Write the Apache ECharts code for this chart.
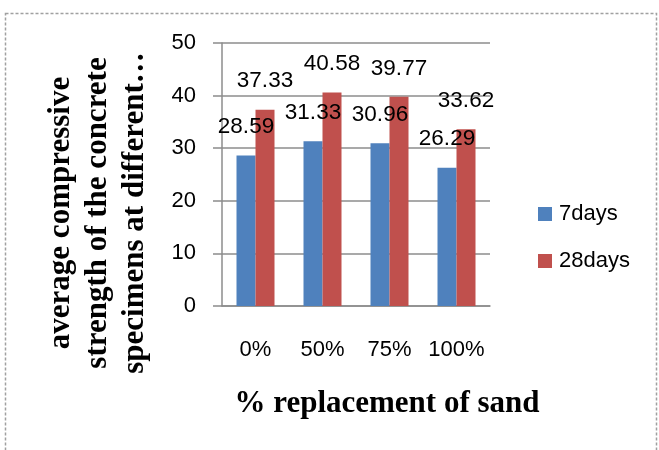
<!DOCTYPE html>
<html>
<head>
<meta charset="utf-8">
<script src="https://cdn.jsdelivr.net/npm/echarts@6/dist/echarts.min.js"></script>
<style>
html,body{margin:0;padding:0;background:#fff;}
#chart{width:659px;height:450px;}
</style>
</head>
<body>
<div id="chart"></div>
<script>
var categories = ['0%', '50%', '75%', '100%'];
var seriesNames = ['7days', '28days'];
var days7 = [28.59, 31.33, 30.96, 26.29];
var days28 = [37.33, 40.58, 39.77, 33.62];
var yTitle = 'average compressive\nstrength of the concrete\nspecimens at different\u2026';
var xTitle = '% replacement of sand';

var chart = echarts.init(document.getElementById('chart'), null, {renderer: 'canvas'});
var sansFont = 'Liberation Sans, Arial, sans-serif';
var serifFont = 'Liberation Serif, Times New Roman, serif';
var labelStyle = {show: true, position: 'top', distance: 17, color: '#000', fontSize: 22.5, fontFamily: sansFont};

chart.setOption({
  animation: false,
  backgroundColor: '#fff',
  grid: {left: 222, right: 169, top: 43, bottom: 144, containLabel: false},
  legend: {
    orient: 'vertical', left: 533, top: 198,
    itemWidth: 14, itemHeight: 14, itemGap: 25,
    icon: 'rect',
    textStyle: {fontSize: 22, fontFamily: sansFont, color: '#000', padding: [0, 0, 0, 2]},
    data: seriesNames
  },
  xAxis: {
    type: 'category', data: categories,
    axisLine: {show: true, lineStyle: {color: '#8c8c8c', width: 1.5}},
    axisTick: {show: false},
    axisLabel: {interval: 0, margin: 33, fontSize: 22, fontFamily: sansFont, color: '#000'}
  },
  yAxis: {
    type: 'value', min: 0, max: 50, interval: 10,
    axisLine: {show: true, lineStyle: {color: '#8c8c8c', width: 1.5}},
    axisTick: {show: true, length: 9, lineStyle: {color: '#8c8c8c', width: 1.5}},
    splitLine: {show: true, lineStyle: {color: '#8c8c8c', width: 1.5}},
    axisLabel: {margin: 26, fontSize: 22, fontFamily: sansFont, color: '#000'}
  },
  series: [
    {name: seriesNames[0], type: 'bar', data: days7, barWidth: 19, barGap: '0%',
     itemStyle: {color: '#4F81BD'}, label: labelStyle},
    {name: seriesNames[1], type: 'bar', data: days28, barWidth: 19, barGap: '0%',
     itemStyle: {color: '#C0504D'}, label: labelStyle}
  ],
  graphic: [
    {type: 'rect', silent: true, shape: {x: 5.5, y: 13.5, width: 651, height: 460},
     style: {fill: 'none', stroke: '#a0a0a0', lineWidth: 1.5, lineDash: [3, 2]}},
    {type: 'text', silent: true, x: 98, y: 213, rotation: Math.PI / 2,
     style: {text: yTitle, font: 'bold 31px ' + serifFont, fill: '#000',
             align: 'center', verticalAlign: 'middle', lineHeight: 37}},
    {type: 'text', silent: true, x: 387, y: 404,
     style: {text: xTitle, font: 'bold 31px ' + serifFont, fill: '#000',
             align: 'center', verticalAlign: 'middle'}}
  ]
});
</script>
</body>
</html>
